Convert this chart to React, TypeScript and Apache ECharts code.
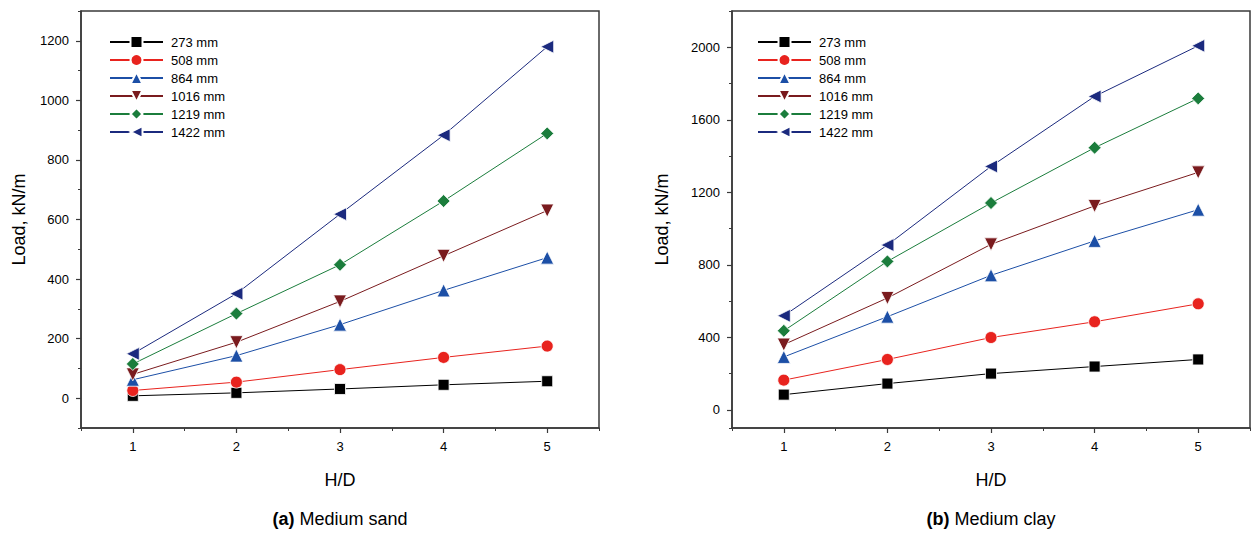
import React, { useEffect, useRef } from "react";
import * as echarts from "echarts";

const hd = [1, 2, 3, 4, 5];
const names = ["273 mm", "508 mm", "864 mm", "1016 mm", "1219 mm", "1422 mm"];

// (a) Medium sand
const sand273 = [8, 18, 31, 45, 57];
const sand508 = [26, 54, 96, 137, 175];
const sand864 = [62, 143, 247, 362, 472];
const sand1016 = [80, 188, 325, 478, 630];
const sand1219 = [115, 284, 448, 662, 889];
const sand1422 = [149, 351, 618, 883, 1180];

// (b) Medium clay
const clay273 = [84, 145, 200, 239, 278];
const clay508 = [164, 278, 399, 486, 585];
const clay864 = [292, 514, 742, 932, 1104];
const clay1016 = [360, 617, 913, 1125, 1310];
const clay1219 = [436, 819, 1141, 1446, 1718];
const clay1422 = [519, 909, 1343, 1729, 2008];

const sandTicks = [0, 200, 400, 600, 800, 1000, 1200];
const sandMinor = [-100, 100, 300, 500, 700, 900, 1100, 1300];
const clayTicks = [0, 400, 800, 1200, 1600, 2000];
const clayMinor = [-100, 200, 600, 1000, 1400, 1800, 2200];
const xTicks = [1, 2, 3, 4, 5];
const xMinor = [0.5, 1.5, 2.5, 3.5, 4.5, 5.5];

const colors = ["#000000", "#e8231e", "#1c4fa6", "#7a1b1e", "#1b7d3c", "#1b2a7e"];
const symbols = ["rect", "circle", "triangle", "triangle", "diamond", "triangle"];
const rotates = [0, 0, 0, 180, 0, 90];
const sizes = [11, 12, 13, 13, 13, 13];

const FONT = 'Arial, "Liberation Sans", sans-serif';
const AXIS = "#3a3a3a";

export default function App() {
  const ref = useRef<HTMLDivElement>(null);
  useEffect(() => {
    if (!ref.current) return;
    const chart = echarts.init(ref.current, undefined, { renderer: "svg" });
    const sand = [sand273, sand508, sand864, sand1016, sand1219, sand1422];
    const clay = [clay273, clay508, clay864, clay1016, clay1219, clay1422];

    const mkSeries = (sets: number[][], gi: number) =>
      sets.map((vals, i) => ({
        type: "line",
        name: names[i],
        xAxisIndex: gi * 2,
        yAxisIndex: gi * 2,
        data: vals.map((v, k) => [hd[k], v]),
        symbol: symbols[i],
        symbolSize: sizes[i],
        symbolRotate: rotates[i],
        lineStyle: { color: colors[i], width: 1 },
        itemStyle: { color: colors[i], borderColor: "#ffffff", borderWidth: 0.8 },
        z: 2 + i,
      }));

    const grids = [
      { left: 81, top: 11, width: 518, height: 417 },
      { left: 732, top: 11, width: 518, height: 417 },
    ];

    const fmt = (v: number) => String(v);

    const xAxes: any[] = [];
    const yAxes: any[] = [];
    [0, 1].forEach((gi) => {
      xAxes.push({
        type: "value",
        gridIndex: gi,
        position: "bottom",
        min: 0.5,
        max: 5.5,
        name: "H/D",
        nameLocation: "middle",
        nameGap: 43,
        nameTextStyle: { fontFamily: FONT, fontSize: 18, color: "#000" },
        axisLine: { show: true, onZero: false, lineStyle: { color: AXIS, width: 1.5 } },
        axisTick: { show: true, inside: false, length: 5, customValues: xTicks, lineStyle: { color: AXIS, width: 1.2 } },
        axisLabel: { show: true, customValues: xTicks, formatter: fmt, margin: 12, fontFamily: FONT, fontSize: 13, color: "#000" },
        splitLine: { show: false },
      });
      xAxes.push({
        type: "value",
        gridIndex: gi,
        position: "bottom",
        min: 0.5,
        max: 5.5,
        axisLine: { show: false, onZero: false },
        axisTick: { show: true, inside: false, length: 3, customValues: xMinor, lineStyle: { color: AXIS, width: 1 } },
        axisLabel: { show: false },
        splitLine: { show: false },
      });
      const ticks = gi === 0 ? sandTicks : clayTicks;
      const minor = gi === 0 ? sandMinor : clayMinor;
      const ymax = gi === 0 ? 1300 : 2200;
      yAxes.push({
        type: "value",
        gridIndex: gi,
        position: "left",
        min: -100,
        max: ymax,
        name: "Load, kN/m",
        nameLocation: "middle",
        nameGap: gi === 0 ? 53 : 61,
        nameTextStyle: { fontFamily: FONT, fontSize: 18, color: "#000" },
        axisLine: { show: true, onZero: false, lineStyle: { color: AXIS, width: 1.5 } },
        axisTick: { show: true, inside: false, length: 5, customValues: ticks, lineStyle: { color: AXIS, width: 1.2 } },
        axisLabel: { show: true, customValues: ticks, formatter: fmt, margin: 12, fontFamily: FONT, fontSize: 13, color: "#000" },
        splitLine: { show: false },
      });
      yAxes.push({
        type: "value",
        gridIndex: gi,
        position: "left",
        min: -100,
        max: ymax,
        axisLine: { show: false, onZero: false },
        axisTick: { show: true, inside: false, length: 3, customValues: minor, lineStyle: { color: AXIS, width: 1 } },
        axisLabel: { show: false },
        splitLine: { show: false },
      });
    });

    const legendBase = {
      orient: "vertical",
      top: 35,
      padding: 0,
      itemWidth: 53,
      itemHeight: 15,
      itemGap: 4,
      data: names,
      textStyle: { fontFamily: FONT, fontSize: 13, color: "#000", padding: [0, 0, 0, 3] },
    };

    const captionStyle = {
      fontFamily: FONT,
      fontSize: 18,
      fontWeight: "normal",
      color: "#000",
      rich: { b: { fontFamily: FONT, fontSize: 18, fontWeight: "bold", color: "#000" } },
    };

    chart.setOption({
      animation: false,
      backgroundColor: "#ffffff",
      grid: grids.map((g) => ({ ...g, show: true, borderColor: AXIS, borderWidth: 1.5, backgroundColor: "transparent" })),
      xAxis: xAxes,
      yAxis: yAxes,
      legend: [
        { ...legendBase, left: 109 },
        { ...legendBase, left: 757 },
      ],
      title: [
        { text: "{b|(a)} Medium sand", left: 340, top: 510, padding: 0, textAlign: "center", textStyle: captionStyle },
        { text: "{b|(b)} Medium clay", left: 991, top: 510, padding: 0, textAlign: "center", textStyle: captionStyle },
      ],
      series: [...mkSeries(sand, 0), ...mkSeries(clay, 1)],
    });
    return () => chart.dispose();
  }, []);
  return (
    <div
      ref={ref}
      style={{ position: "absolute", left: 0, top: 0, width: 1252, height: 533 }}
    />
  );
}
